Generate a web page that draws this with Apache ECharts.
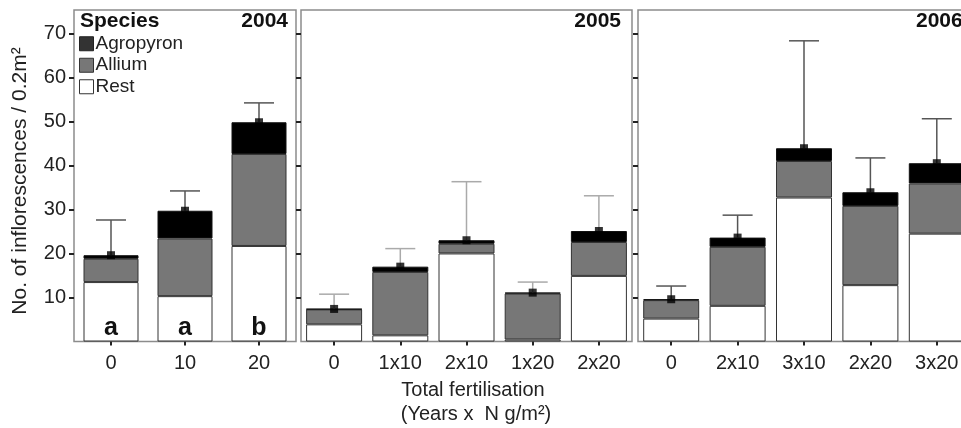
<!DOCTYPE html>
<html><head><meta charset="utf-8">
<script src="https://cdn.jsdelivr.net/npm/echarts@6/dist/echarts.min.js"></script>
<style>html,body{margin:0;padding:0;background:#fff;overflow:hidden}#c{width:972px;height:428px}</style>
</head><body><div id="c"></div>
<script>
// ---- data ----
const yTicks = [10, 20, 30, 40, 50, 60, 70];

const cats2004 = ['0', '10', '20'];
const rest2004 = [13.5, 10.3, 21.7];
const allium2004 = [5.3, 13.1, 20.9];
const agro2004 = [0.8, 6.3, 7.2];
const upper2004 = [27.6, 34.2, 54.2];
const letters2004 = ['a', 'a', 'b'];

const cats2005 = ['0', '1x10', '2x10', '1x20', '2x20'];
const rest2005 = [3.9, 1.4, 20.0, 0.45, 14.9];
const allium2005 = [3.4, 14.4, 2.2, 10.45, 7.7];
const agro2005 = [0.1, 1.2, 0.8, 0.2, 2.5];
const upper2005 = [10.75, 21.1, 36.3, 13.5, 33.1];

const cats2006 = ['0', '2x10', '3x10', '2x20', '3x20'];
const rest2006 = [5.2, 8.1, 32.7, 12.8, 24.5];
const allium2006 = [4.2, 13.4, 8.3, 18.0, 11.4];
const agro2006 = [0.2, 2.1, 2.9, 3.1, 4.6];
const upper2006 = [12.6, 28.7, 68.3, 41.7, 50.6];

// ---- chart ----
const FONT = 'Liberation Sans, Arial, sans-serif';
const YMAX = 75.3;
const panels = [
  {cats: cats2004, rest: rest2004, allium: allium2004, agro: agro2004, upper: upper2004, letters: letters2004,
   left: 74, width: 222, barW: 55, errColor: '#555'},
  {cats: cats2005, rest: rest2005, allium: allium2005, agro: agro2005, upper: upper2005, letters: null,
   left: 301, width: 331, barW: 56, errColor: '#aaa'},
  {cats: cats2006, rest: rest2006, allium: allium2006, agro: agro2006, upper: upper2006, letters: null,
   left: 638, width: 332, barW: 56, errColor: '#555'}
];

const grids = [], xAxes = [], yAxes = [], series = [];
panels.forEach((p, gi) => {
  grids.push({left: p.left, width: p.width, top: 10, bottom: 86.5, show: true,
    borderColor: '#8c8c8c', borderWidth: 1.5, backgroundColor: 'transparent', containLabel: false});
  xAxes.push({type: 'category', gridIndex: gi, data: p.cats,
    axisLine: {show: false},
    axisTick: {show: true, alignWithLabel: true, interval: 0, length: 4, inside: false, lineStyle: {color: '#222', width: 2}},
    axisLabel: {interval: 0, fontSize: 20, color: '#222', fontFamily: FONT, margin: 12},
    splitLine: {show: false}});
  yAxes.push({type: 'value', gridIndex: gi, min: 0, max: YMAX,
    axisLine: {show: false},
    axisTick: {show: true, length: 5, customValues: yTicks, lineStyle: {color: '#222', width: 2}},
    axisLabel: {show: gi === 0, customValues: yTicks, fontSize: 20, color: '#222', fontFamily: FONT, margin: 8},
    splitLine: {show: false}});

  const border = {borderColor: '#333', borderWidth: 1};
  series.push({name: 'Rest', type: 'bar', stack: 's' + gi, xAxisIndex: gi, yAxisIndex: gi,
    barWidth: p.barW, data: p.rest, itemStyle: Object.assign({color: '#ffffff'}, border),
    label: p.letters ? {show: true, position: 'insideBottom', distance: 1,
      formatter: (d) => p.letters[d.dataIndex], fontSize: 25, fontWeight: 'bold', color: '#111', fontFamily: FONT} : {show: false},
    emphasis: {disabled: true}});
  series.push({name: 'Allium', type: 'bar', stack: 's' + gi, xAxisIndex: gi, yAxisIndex: gi,
    barWidth: p.barW, data: p.allium, itemStyle: Object.assign({color: '#777777'}, border), emphasis: {disabled: true}});
  series.push({name: 'Agropyron', type: 'bar', stack: 's' + gi, xAxisIndex: gi, yAxisIndex: gi,
    barWidth: p.barW, data: p.agro, itemStyle: {color: '#000', borderColor: '#111', borderWidth: 1}, emphasis: {disabled: true}});

  const totals = p.rest.map((r, i) => r + p.allium[i] + p.agro[i]);
  series.push({type: 'custom', xAxisIndex: gi, yAxisIndex: gi, z: 5,
    data: totals.map((t, i) => [i, t, p.upper[i]]),
    renderItem: (params, api) => {
      const a = api.coord([api.value(0), api.value(1)]);
      const b = api.coord([api.value(0), api.value(2)]);
      const st = {stroke: p.errColor, lineWidth: 1.5};
      return {type: 'group', children: [
        {type: 'line', shape: {x1: a[0], y1: a[1], x2: b[0], y2: b[1]}, style: st},
        {type: 'line', shape: {x1: b[0] - 15, y1: b[1], x2: b[0] + 15, y2: b[1]}, style: st}
      ]};
    }, silent: true});
  series.push({type: 'scatter', xAxisIndex: gi, yAxisIndex: gi, z: 6, symbol: 'rect', symbolSize: 8,
    data: totals.map((t, i) => [i, t]), itemStyle: {color: '#000'}, silent: true});
});

const bold = (txt, x, align) => ({type: 'text', x: x, y: 21, style: {text: txt, fontSize: 21, fontWeight: 'bold',
  fill: '#111', fontFamily: FONT, textAlign: align, textVerticalAlign: 'middle'}});

const option = {
  animation: false,
  backgroundColor: '#fff',
  grid: grids, xAxis: xAxes, yAxis: yAxes, series: series,
  legend: {
    data: [
      {name: 'Agropyron', itemStyle: {color: '#333', borderColor: '#222', borderWidth: 1}},
      {name: 'Allium', itemStyle: {color: '#777', borderColor: '#333', borderWidth: 1}},
      {name: 'Rest', itemStyle: {color: '#fff', borderColor: '#333', borderWidth: 1}}
    ],
    orient: 'vertical', left: 79, top: 34, padding: 0, icon: 'rect', itemWidth: 14, itemHeight: 14, itemGap: 2,
    textStyle: {fontSize: 19, color: '#222', fontFamily: FONT, padding: [0, 0, 0, -3], lineHeight: 19.5},
    selectedMode: false
  },
  graphic: [
    bold('Species', 80, 'left'),
    bold('2004', 288, 'right'),
    bold('2005', 621, 'right'),
    bold('2006', 916, 'left'),
    {type: 'text', x: 20, y: 181, rotation: Math.PI / 2,
      style: {text: 'No. of inflorescences / 0.2m²', fontSize: 21, fill: '#222', fontFamily: FONT, textAlign: 'center', textVerticalAlign: 'middle'}},
    {type: 'text', x: 473, y: 390, style: {text: 'Total fertilisation', fontSize: 20, fill: '#222', fontFamily: FONT, textAlign: 'center', textVerticalAlign: 'middle'}},
    {type: 'text', x: 476, y: 414, style: {text: '(Years x  N g/m²)', fontSize: 20, fill: '#222', fontFamily: FONT, textAlign: 'center', textVerticalAlign: 'middle'}}
  ]
};
const chart = echarts.init(document.getElementById('c'), null, {renderer: 'canvas'});
chart.setOption(option);
</script></body></html>
